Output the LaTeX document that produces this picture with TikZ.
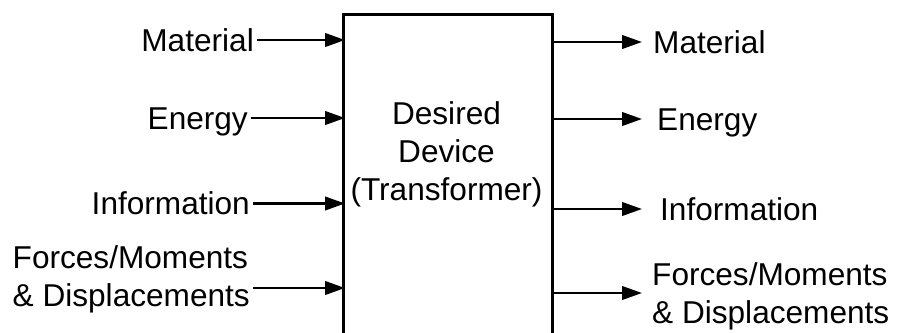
\documentclass[tikz,border=0pt]{standalone}
\usepackage{fontspec}
\setmainfont{Liberation Sans}
\usepackage{tikz}
\usetikzlibrary{arrows.meta}

\tikzset{
    flow/.style={line width=2.5pt, -{Triangle[length=20pt, width=13.5pt]}},
    lbl/.style={font=\fontsize{31.6}{38}\selectfont, inner xsep=3pt, inner ysep=0pt,
                text height=22.5pt, text depth=0pt},
    lbltwo/.style={font=\fontsize{31.6}{38}\selectfont, inner xsep=3pt, inner ysep=0pt,
                   align=left}
}

\begin{document}
\begin{tikzpicture}[x=1pt, y=-1pt]
    \path[use as bounding box, clip] (0,0) rectangle (899,332);

    \node[draw, line width=2.5pt, inner sep=0pt, anchor=north west,
          minimum width=209pt, minimum height=400pt] (device) at (342,13) {};
    \node[lbltwo, align=center] (devlabel) at (446.5,154) {Desired\\Device\\(Transformer)};
    \coordinate (tipcol) at (642,0);

    \node[lbl, anchor=east] (matin) at (257,40) {Material};
    \node[lbl, anchor=east] (enin) at (251,118) {Energy};
    \node[lbl, anchor=east] (infin) at (253,203.5) {Information};
    \node[lbltwo, anchor=east] (fmin) at (253,279) {Forces/Moments\\\& Displacements};

    \draw[flow, shorten >=-3pt] (matin.east) -- (matin.east -| device.west);
    \draw[flow, shorten >=-3pt] (enin.east) -- (enin.east -| device.west);
    \draw[flow, shorten >=-3pt] (infin.east) -- (infin.east -| device.west);
    \draw[flow, shorten >=-3pt] ([yshift=-9pt]fmin.east) -- ([yshift=-9pt]fmin.east -| device.west);

    \node[lbl, anchor=west] (matout) at (650,42) {Material};
    \node[lbl, anchor=west] (enout) at (654,119) {Energy};
    \node[lbl, anchor=west] (infout) at (657,209) {Information};
    \node[lbltwo, anchor=west] (fmout) at (649,296) {Forces/Moments\\\& Displacements};

    \draw[flow] (device.east |- matout.west) -- (tipcol |- matout.west);
    \draw[flow] (device.east |- enout.west) -- (tipcol |- enout.west);
    \draw[flow] (device.east |- infout.west) -- (tipcol |- infout.west);
    \draw[flow] ([yshift=3pt]device.east |- fmout.west) -- ([yshift=3pt]tipcol |- fmout.west);
\end{tikzpicture}
\end{document}
